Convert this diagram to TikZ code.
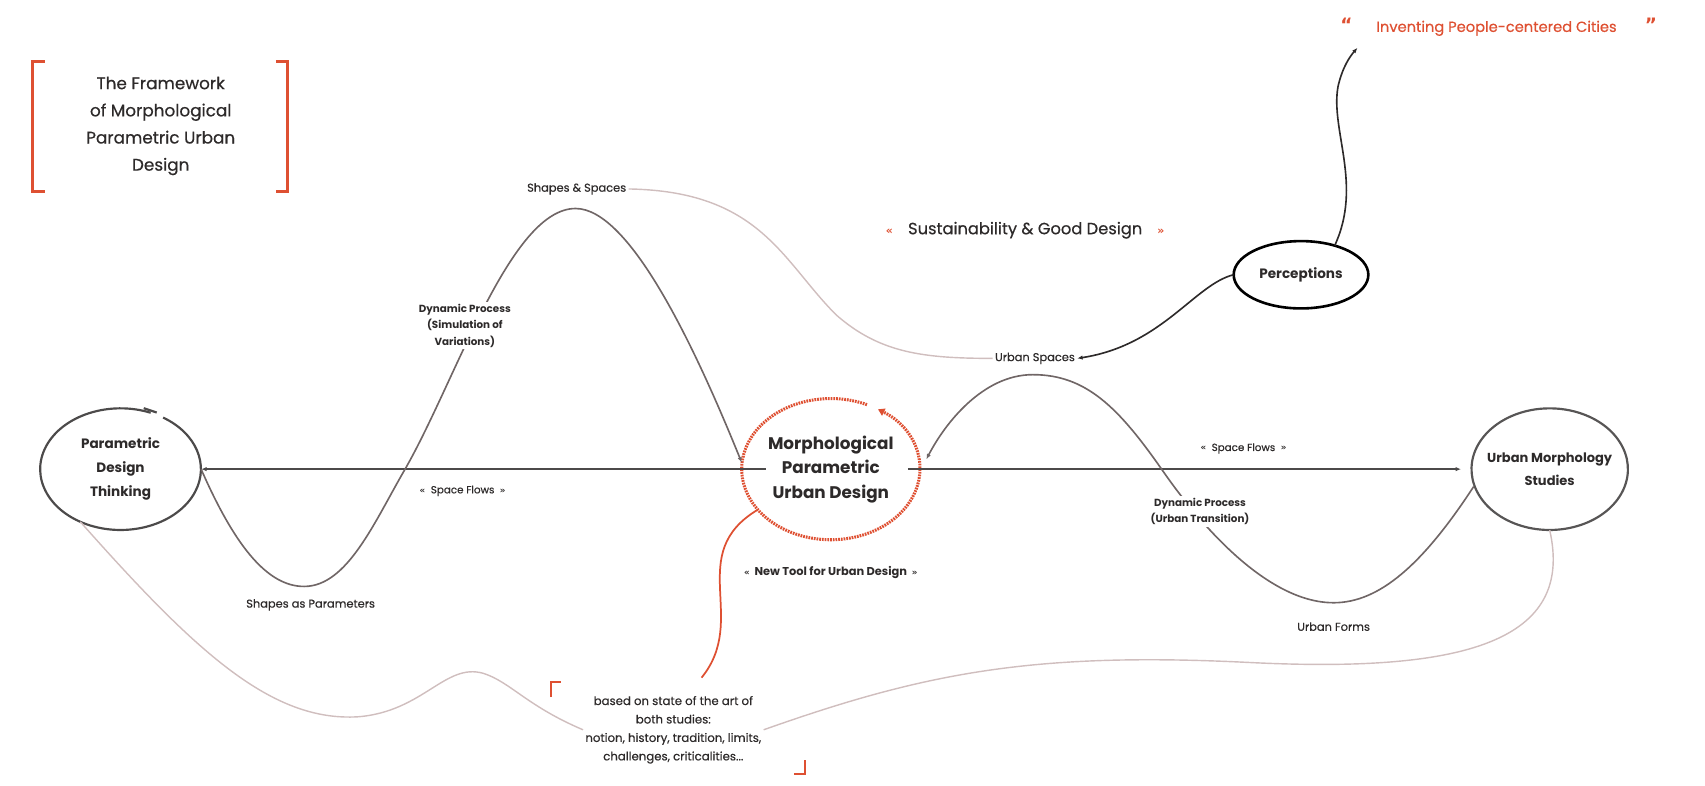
\documentclass[tikz,border=0pt]{standalone}
\usepackage{fontspec}
\setmainfont{Poppins}
\newfontfamily\medf{Poppins}[FakeBold=0.45]
\newfontfamily\qfont{DejaVu Sans}
\usetikzlibrary{arrows.meta,calc,shapes.geometric}
\definecolor{redo}{RGB}{222,80,50}
\definecolor{ink}{RGB}{45,42,42}
\definecolor{wave}{RGB}{112,102,102}
\definecolor{pale}{RGB}{208,190,190}
\newcommand{\gl}{{\qfont\bfseries\fontsize{8}{8}\selectfont«}}
\newcommand{\gr}{{\qfont\bfseries\fontsize{8}{8}\selectfont»}}
\begin{document}
\begin{tikzpicture}[x=1pt,y=1pt,
  txt/.style={text=ink, inner sep=2pt},
  small/.style={txt, font=\fontsize{10.5}{12}\medf},
  smallb/.style={txt, font=\fontsize{9.5}{15}\selectfont\bfseries, align=center, fill=white},
  ellnode/.style={ellipse, draw=none, inner sep=0pt, align=center, text=ink},
  wavy/.style={draw=wave, line width=1.5pt},
  paleline/.style={draw=pale, line width=1.3pt},
  tipL/.style={-{Latex[length=5pt,width=4pt]}},
  flow/.style={draw=ink!85, line width=1.4pt},
  bracket/.style={draw=redo, line width=2.6pt},
]
\useasboundingbox (0,0) rectangle (1570,-723);

% ---------- main nodes ----------
\node[ellnode, minimum width=148pt, minimum height=112pt,
      font=\fontsize{12.5}{22}\selectfont\bfseries] (pdt) at (111,-432) {Parametric\\Design\\Thinking};
\node[ellnode, minimum width=164pt, minimum height=130pt,
      font=\fontsize{15.5}{22.5}\selectfont\bfseries] (mpud) at (765,-432) {Morphological\\Parametric\\Urban Design};
\node[ellnode, minimum width=144pt, minimum height=112pt,
      font=\fontsize{12}{21}\selectfont\bfseries] (ums) at (1427,-432) {Urban Morphology\\Studies};
\node[ellnode, minimum width=124pt, minimum height=62pt,
      font=\fontsize{12.5}{14}\selectfont\bfseries] (perc) at (1198,-253) {Perceptions};

% ellipse outlines (hand drawn look)
\draw[ink!85, line width=2pt] ($(pdt.center)+(68:74pt and 56pt)$)
   arc[start angle=68, end angle=418, x radius=74pt, y radius=56pt];
\draw[ink!85, line width=2pt] ($(pdt.center)+(64:76pt and 58pt)$) -- ++(-12pt,4pt);
\draw[redo, line width=2.8pt, dash pattern=on 1.6pt off 0.9pt, -{Triangle[length=6pt,width=7pt]}]
   ($(mpud.center)+(66:82pt and 65pt)$)
   arc[start angle=66, end angle=418, x radius=82pt, y radius=65pt];
\draw[ink!80, line width=2pt] ($(ums.center)+(150:72pt and 56pt)$)
   arc[start angle=150, end angle=512, x radius=72pt, y radius=56pt];
\draw[black, line width=2.4pt] (perc.center) ellipse[x radius=62pt, y radius=31pt];

% ---------- horizontal space flows ----------
\coordinate (hl) at (705,-432);
\coordinate (hr) at (836,-432);
\draw[flow, tipL] (hl) -- (pdt.east);
\draw[flow, tipL] (hr) -- (ums.west);

% ---------- left wave ----------
\coordinate (lwEnd) at (683,-426);
\draw[wavy, tipL] (pdt.east) .. controls (215,-500) and (245,-540) .. (280,-540)
   .. controls (320,-540) and (345,-480) .. (373,-432)
   .. controls (420,-350) and (470,-192) .. (530,-192)
   .. controls (580,-192) and (640,-320) .. (lwEnd);

% ---------- right wave ----------
\coordinate (rwStart) at (1357,-448);
\coordinate (rwEnd) at (853,-423);
\draw[wavy, tipL] (rwStart) .. controls (1310,-520) and (1270,-555) .. (1228,-555)
   .. controls (1170,-555) and (1110,-490) .. (1071,-434)
   .. controls (1030,-375) and (1000,-345) .. (951,-345)
   .. controls (905,-345) and (870,-390) .. (rwEnd);

% ---------- pale connectors ----------
\node[small] (shsp) at (531,-174) {Shapes \& Spaces};
\node[small] (usp) at (953,-330) {Urban Spaces};
\draw[paleline] (shsp.east) .. controls (700,-176) and (720,-240) .. (770,-290)
   .. controls (810,-325) and (850,-330) .. (usp.west);

\node[txt, align=center, font=\fontsize{10.8}{17}\medf] (based) at (620,-672)
  {based on state of the art of\\both studies:\\notion, history, tradition, limits,\\challenges, criticalities...};
\draw[paleline] ($(pdt.center)+(-120:74pt and 56pt)$) .. controls (180,-600) and (250,-665) .. (330,-660)
   .. controls (390,-655) and (410,-610) .. (445,-620)
   .. controls (470,-628) and (485,-650) .. (based.west);
\draw[paleline] (based.east) .. controls (850,-620) and (950,-600) .. (1150,-610)
   .. controls (1350,-620) and (1450,-590) .. (ums.south);

% red connector
\draw[redo, line width=1.6pt] ($(mpud.center)+(-145:82pt and 65pt)$) .. controls (630,-510) and (690,-570) .. (646,-624);

% Perceptions connectors
\draw[ink, line width=1.5pt, tipL] (perc.west) .. controls (1100,-262) and (1070,-318) .. (usp.east);
\node[txt, text=redo, font=\fontsize{13.5}{17}\medf] (invent) at (1380,-25)
  {{\qfont\bfseries\fontsize{17}{17}\selectfont “}\hspace{22pt}Inventing People-centered Cities\hspace{26pt}{\qfont\bfseries\fontsize{17}{17}\selectfont ”}};
\coordinate (invTip) at (1250,-44);
\draw[ink, line width=1.5pt, tipL] ($(perc.center)+(60:62pt and 31pt)$) .. controls (1255,-170) and (1225,-120) .. (1232,-80)
   .. controls (1236,-62) and (1243,-52) .. (invTip);

% ---------- labels ----------
\node[smallb] (dp1) at (428,-300) {Dynamic Process\\(Simulation of\\Variations)};
\node[smallb] (dp2) at (1105,-471) {Dynamic Process\\(Urban Transition)};
\node[txt, font=\fontsize{9.5}{11}\medf] (sf1) at (426,-452) {\gl\ \ Space Flows\ \ \gr};
\node[txt, font=\fontsize{9.5}{11}\medf] (sf2) at (1145,-413) {\gl\ \ Space Flows\ \ \gr};
\node[small] (sap) at (286,-557) {Shapes as Parameters};
\node[small] (uf) at (1228,-577) {Urban Forms};
\node[txt, font=\fontsize{10.5}{11}\selectfont\bfseries] (ntool) at (765,-527) {\gl\ \ New Tool for Urban Design\ \ \gr};
\node[txt, font=\fontsize{15}{16}\medf] (sust) at (944,-212)
  {{\color{redo}\qfont\bfseries\fontsize{10}{10}\selectfont«}\hspace{14pt}Sustainability \& Good Design\hspace{14pt}{\color{redo}\qfont\bfseries\fontsize{10}{10}\selectfont»}};

% ---------- title ----------
\node[txt, align=center, font=\fontsize{15.5}{25}\medf] (title) at (148,-116)
  {The Framework\\of Morphological\\Parametric Urban\\Design};
\draw[bracket] (41,-57) -- (30,-57) -- (30,-176) -- (41,-176);
\draw[bracket] (254,-57) -- (265,-57) -- (265,-176) -- (254,-176);

% bottom text brackets
\draw[redo, line width=2pt] (507,-642) -- (507,-628) -- (517,-628);
\draw[redo, line width=2pt] (741,-700) -- (741,-713) -- (731,-713);
\end{tikzpicture}
\end{document}
